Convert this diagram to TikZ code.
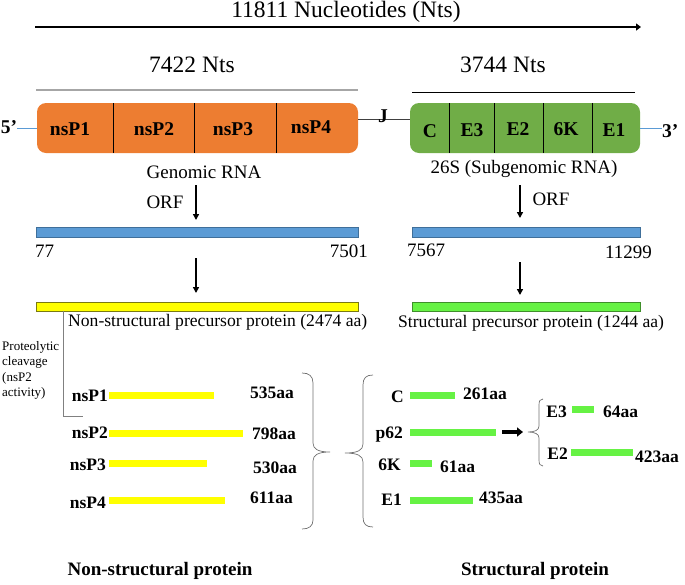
\documentclass[tikz,border=0pt]{standalone}
\usepackage{fontspec}
\setmainfont{Liberation Serif}
\usetikzlibrary{arrows.meta}
\definecolor{orangeF}{HTML}{ED7D31}
\definecolor{greenF}{HTML}{70AD47}
\definecolor{blueF}{HTML}{5B9BD5}
\definecolor{blueD}{HTML}{3F6F9A}
\definecolor{yellowF}{HTML}{FFFF00}
\definecolor{yellowD}{HTML}{7A7A10}
\definecolor{limeF}{HTML}{66F244}
\definecolor{limeD}{HTML}{3F8F2A}
\definecolor{lineG}{HTML}{A6A6A6}
\definecolor{braceG}{HTML}{707070}
\begin{document}
\begin{tikzpicture}[x=1pt,y=-1pt,
  t/.style={inner sep=0pt, anchor=base},
  big/.style={t, font=\fontsize{23.5}{26}\selectfont},
  med/.style={t, font=\fontsize{19}{22}\selectfont},
  prec/.style={t, font=\fontsize{17.6}{20}\selectfont},
  bx/.style={t, font=\fontsize{19.5}{22}\selectfont\bfseries},
  lb/.style={t, font=\fontsize{17.5}{20}\selectfont\bfseries},
  foot/.style={t, font=\fontsize{19}{22}\selectfont\bfseries},
  note/.style={inner sep=0pt, align=left, font=\fontsize{13}{15.5}\selectfont},
  bar/.style={inner sep=0pt, outer sep=0pt, line width=0.8pt, anchor=north west},
  pbar/.style={inner sep=0pt, outer sep=0pt, minimum height=7pt, anchor=west},
  rna/.style={inner sep=0pt, outer sep=0pt, rounded corners=9pt, minimum height=50pt, anchor=north west},
  arr/.style={line width=1.8pt, -{Triangle[length=6pt,width=6pt]}},
  fat/.style={line width=3.5pt, -{Triangle[length=6pt,width=9pt]}},
  sep/.style={line width=0.8pt},
  brace/.style={draw=braceG, line width=0.7pt},
]
\useasboundingbox (0,0) rectangle (685,584);
% title and genome arrow
\node[big] (title) at (346,17.5) {11811 Nucleotides (Nts)};
\coordinate (gs) at (35,27);
\coordinate (ge) at (641,27);
\draw[line width=2.8pt, -{Triangle[length=5pt,width=7pt]}] (gs) -- (ge);
\node[big] (n1) at (192,72) {7422 Nts};
\node[big] (n2) at (503,72) {3744 Nts};
\draw[lineG, line width=1.4pt] (36,90) -- (358,90);
\draw[line width=1pt] (412,92) -- (635,92);
% genomic RNA
\node[rna, fill=orangeF, minimum width=321pt] (ob) at (37,103) {};
\foreach \x in {113,194,276} \draw[sep] (\x,103) -- (\x,153);
\node[bx] (k1) at (70,135) {nsP1};
\node[bx] (k2) at (154,135) {nsP2};
\node[bx] (k3) at (233,135) {nsP3};
\node[bx] (k4) at (311,133) {nsP4};
% subgenomic RNA
\node[rna, fill=greenF, minimum width=230pt] (gb) at (410,103) {};
\foreach \x in {449,494,543,592} \draw[sep] (\x,103) -- (\x,153);
\node[bx] (s1) at (430,137) {C};
\node[bx] (s2) at (472,136) {E3};
\node[bx] (s3) at (518,135) {E2};
\node[bx] (s4) at (566,135) {6K};
\node[bx] (s5) at (614,136) {E1};
% ends and junction
\node[bx] (p5) at (9,133) {5’};
\draw[blueF, line width=0.8pt] (p5.east |- ob.west) -- (ob.west);
\node[bx, anchor=base west] (p3) at (662,137) {3’};
\draw[blueF, line width=0.8pt] (gb.east) -- (gb.east -| p3.west);
\draw[darkgray, line width=0.8pt] (ob.east |- 0,119) -- (gb.west |- 0,119);
\node[bx] (J) at (383,122) {J};
\node[med] (grna) at (204,178) {Genomic RNA};
\node[med] (sg) at (524,173) {26S (Subgenomic RNA)};
% ORF
\node[med] (orf1) at (165,208) {ORF};
\node[med] (orf2) at (551,205) {ORF};
\node[bar, fill=blueF, draw=blueD, minimum width=322pt, minimum height=10pt] (bL) at (36,227) {};
\node[bar, fill=blueF, draw=blueD, minimum width=228pt, minimum height=10pt] (bR) at (412,227) {};
\coordinate (o1) at (196,185);
\coordinate (o2) at (520,185);
\draw[arr, shorten >=7pt] (o1) -- (o1 |- bL.north);
\draw[arr, shorten >=9pt] (o2) -- (o2 |- bR.north);
\node[med, anchor=base west] (x1) at (35,257) {77};
\node[med, anchor=base east] (x2) at (368,257) {7501};
\node[med, anchor=base west] (x3) at (407,256) {7567};
\node[med, anchor=base east] (x4) at (652,258) {11299};
% precursors
\node[bar, fill=yellowF, draw=yellowD, minimum width=322pt, minimum height=9pt] (yL) at (36,302) {};
\node[bar, fill=limeF, draw=limeD, minimum width=228pt, minimum height=9pt] (gL) at (412,302) {};
\draw[arr, shorten <=21pt, shorten >=9pt] (bL.south -| o1) -- (yL.north -| o1);
\draw[arr, shorten <=25pt, shorten >=7pt] (bR.south -| o2) -- (gL.north -| o2);
\node[prec, anchor=base west] (pt1) at (68,326) {Non-structural precursor protein (2474 aa)};
\node[prec, anchor=base west] (pt2) at (398,327) {Structural precursor protein (1244 aa)};
% cleavage
\draw[gray, line width=0.8pt] (yL.south -| 63,0) |- (83,416);
\node[note, anchor=north west] (pc) at (2,341) {Proteolytic\\cleavage\\(nsP2\\activity)};
% non-structural proteins
\node[pbar, fill=yellowF, minimum width=105pt] (b1) at (109,395) {};
\node[pbar, fill=yellowF, minimum width=134pt] (b2) at (109,433) {};
\node[pbar, fill=yellowF, minimum width=98pt] (b3) at (109,463.5) {};
\node[pbar, fill=yellowF, minimum width=116pt] (b4) at (109,500.5) {};
\node[lb, anchor=base east] (l1) at (108,401) {nsP1};
\node[lb, anchor=base east] (l2) at (108,438) {nsP2};
\node[lb, anchor=base east] (l3) at (106,470) {nsP3};
\node[lb, anchor=base east] (l4) at (106,508) {nsP4};
\node[lb, anchor=base west] (a1) at (250,398) {535aa};
\node[lb, anchor=base west] (a2) at (252,439) {798aa};
\node[lb, anchor=base west] (a3) at (253,473) {530aa};
\node[lb, anchor=base west] (a4) at (250,503) {611aa};
\draw[brace] (302,373) .. controls (309,373) and (313,376) .. (313,383) -- (313,443) .. controls (313,449) and (318,452) .. (330,452) .. controls (318,452) and (313,455) .. (313,461) -- (313,520) .. controls (313,526) and (309,529) .. (302,529);
% structural proteins
\draw[brace] (373,375) .. controls (366,375) and (363,378) .. (363,385) -- (363,444) .. controls (363,450) and (358,453) .. (345,453) .. controls (358,453) and (363,456) .. (363,462) -- (363,517) .. controls (363,524) and (366,527) .. (373,527);
\node[pbar, fill=limeF, minimum width=45pt] (c1) at (410,395) {};
\node[pbar, fill=limeF, minimum width=86pt] (c2) at (410,432) {};
\node[pbar, fill=limeF, minimum width=22pt] (c3) at (410,463) {};
\node[pbar, fill=limeF, minimum width=63pt] (c4) at (410,500) {};
\node[lb, anchor=base east] (m1) at (404,402) {C};
\node[lb, anchor=base east] (m2) at (403,438) {p62};
\node[lb, anchor=base east] (m3) at (401,470) {6K};
\node[lb, anchor=base east] (m4) at (402,505) {E1};
\node[lb, anchor=base west] (d1) at (463,399) {261aa};
\node[lb, anchor=base west] (d3) at (440,472) {61aa};
\node[lb, anchor=base west] (d4) at (479,503) {435aa};
\coordinate (pe) at (523,432);
\draw[fat, shorten <=6pt] (c2.east) -- (pe);
\draw[brace] (543,399) .. controls (540,399) and (539,401) .. (539,405) -- (539,426) .. controls (539,430) and (535,432) .. (528,432) .. controls (535,432) and (539,434) .. (539,438) -- (539,460) .. controls (539,464) and (540,466) .. (543,466);
\node[pbar, fill=limeF, minimum width=22pt] (e1) at (572,409) {};
\node[pbar, fill=limeF, minimum width=62pt] (e2) at (571,452) {};
\node[lb, anchor=base east] (f1) at (567,417) {E3};
\node[lb, anchor=base east] (f2) at (568,459) {E2};
\node[lb, anchor=base west] (h1) at (603,417) {64aa};
\node[lb, anchor=base west] (h2) at (635,462) {423aa};
% footers
\node[foot] (ft1) at (160,575) {Non-structural protein};
\node[foot] (ft2) at (535,575) {Structural protein};
\end{tikzpicture}
\end{document}
